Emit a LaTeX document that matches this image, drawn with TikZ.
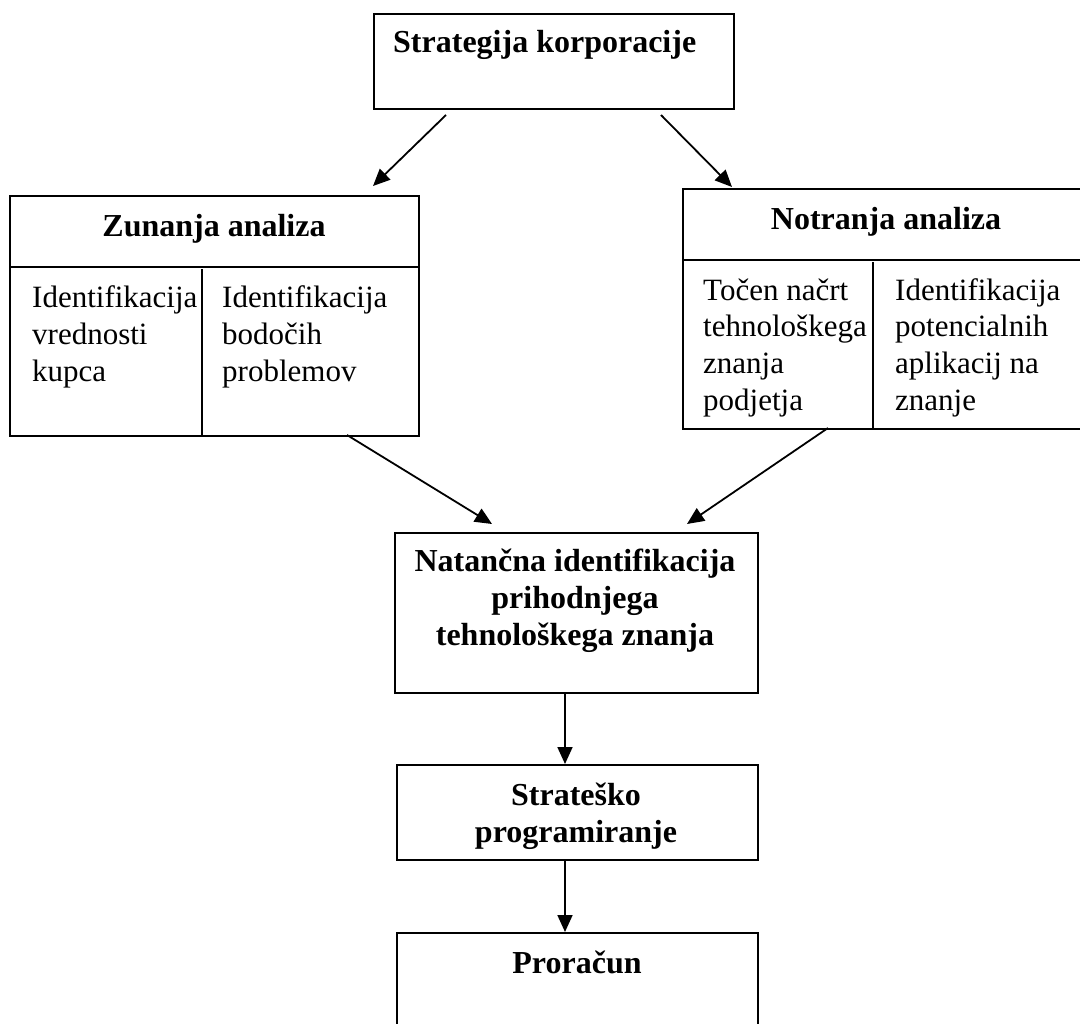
\documentclass[tikz,border=0pt]{standalone}
\usepackage{fontspec}
\setmainfont{Liberation Serif}
\usetikzlibrary{arrows.meta}
\begin{document}
\begin{tikzpicture}[x=1pt,y=-1pt,
  box/.style={draw,line width=1.9pt,inner sep=0pt,anchor=north west},
  divider/.style={line width=1.9pt},
  hd/.style={font=\fontsize{32}{37}\selectfont\bfseries,inner sep=0pt},
  bd/.style={font=\fontsize{31}{37}\selectfont,inner sep=0pt,align=left,anchor=base west},
  arr/.style={line width=1.8pt,-{Triangle[length=17pt,width=15pt]}}]
\clip (0,0) rectangle (1080,1024);
% boxes
\node[box,minimum width=360pt,minimum height=95pt] (top) at (373,13) {};
\node[box,minimum width=409pt,minimum height=240pt] (left) at (9,195) {};
\node[box,minimum width=410pt,minimum height=240pt] (right) at (682,188) {};
\node[box,minimum width=363pt,minimum height=160pt] (mid) at (394,532) {};
\node[box,minimum width=361pt,minimum height=95pt] (strat) at (396,764) {};
\node[box,minimum width=361pt,minimum height=120pt] (pror) at (396,932) {};
% dividers
\draw[divider] (left.north west) ++(0,72) -- ++(409,0);
\draw[divider] (left.south west) ++(193,0) -- ++(0,-168);
\draw[divider] (right.north west) ++(0,72) -- ++(410,0);
\draw[divider] (right.south west) ++(191,0) -- ++(0,-168);
% texts (base anchor = baseline of last line)
\node[hd,anchor=base west] (ttop) at (393,53) {Strategija korporacije};
\node[hd,anchor=base] (tleft) at (214,237) {Zunanja analiza};
\node[hd,anchor=base] (tright) at (886,230) {Notranja analiza};
\node[bd] (l1) at (32,382) {Identifikacija\\vrednosti\\kupca};
\node[bd] (l2) at (222,382) {Identifikacija\\bodočih\\problemov};
\node[bd] (r1) at (703,411) {Točen načrt\\tehnološkega\\znanja\\podjetja};
\node[bd] (r2) at (895,411) {Identifikacija\\potencialnih\\aplikacij na\\znanje};
\node[hd,align=center,anchor=base] (tmid) at (575,645) {Natančna identifikacija\\prihodnjega\\tehnološkega znanja};
\node[hd,align=center,anchor=base] (tstrat) at (576,842) {Strateško\\programiranje};
\node[hd,anchor=base] (tpror) at (577,973) {Proračun};
% arrow ends
\coordinate (a1s) at (446,115); \coordinate (a1e) at (373,186);
\coordinate (a2s) at (661,115); \coordinate (a2e) at (732,187);
\coordinate (a3s) at (347,435); \coordinate (a3e) at (492,524);
\coordinate (a4s) at (828,428); \coordinate (a4e) at (687,524);
\draw[arr] (a1s) -- (a1e);
\draw[arr] (a2s) -- (a2e);
\draw[arr] (a3s) -- (a3e);
\draw[arr] (a4s) -- (a4e);
\draw[arr] (mid.south -| 565,0) -- (strat.north -| 565,0);
\draw[arr] (strat.south -| 565,0) -- (pror.north -| 565,0);
\end{tikzpicture}
\end{document}
